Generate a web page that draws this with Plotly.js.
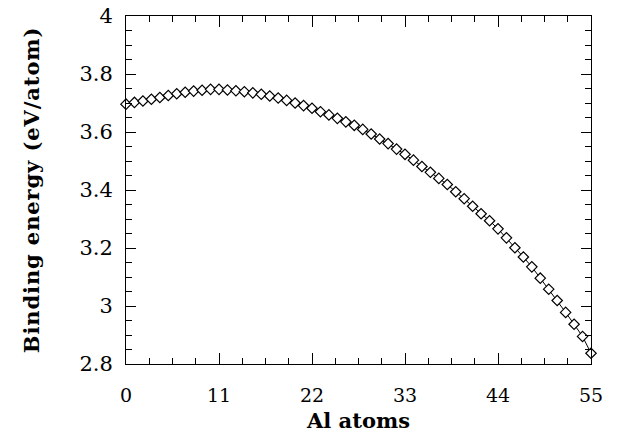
<!DOCTYPE html>
<html>
<head>
<meta charset="utf-8">
<script src="https://cdn.plot.ly/plotly-3.0.1.min.js"></script>
<style>html,body{margin:0;padding:0;background:#fff;}#chart{width:618px;height:434px;}
.ytitle{letter-spacing:0.9px;}
</style>
</head>
<body>
<div id="chart"></div>
<script>
const alAtoms = [0,1,2,3,4,5,6,7,8,9,10,11,12,13,14,15,16,17,18,19,20,21,22,23,24,25,26,27,28,29,30,31,32,33,34,35,36,37,38,39,40,41,42,43,44,45,46,47,48,49,50,51,52,53,54,55];
const bindingEnergy = [3.696,3.702,3.707,3.713,3.719,3.726,3.732,3.737,3.741,3.744,
  3.747,3.747,3.745,3.742,3.739,3.735,3.730,3.724,3.717,3.709,
  3.700,3.691,3.682,3.670,3.659,3.647,3.635,3.623,3.609,3.593,
  3.576,3.560,3.541,3.523,3.503,3.481,3.461,3.440,3.419,3.394,
  3.370,3.344,3.318,3.294,3.266,3.235,3.201,3.169,3.135,3.096,
  3.058,3.019,2.978,2.937,2.895,2.837];
const xTicks = [0,11,22,33,44,55];
const yTicks = [2.8,3,3.2,3.4,3.6,3.8,4];
const yTickText = ['2.8','3','3.2','3.4','3.6','3.8','4'];

const trace = {
  x: alAtoms, y: bindingEnergy, type: 'scatter', mode: 'lines+markers',
  line: {color: '#000', width: 1},
  marker: {symbol: 'diamond', size: 8, color: '#fff', line: {color: '#000', width: 1.2}},
  cliponaxis: false, showlegend: false
};
const fam = 'DejaVu Serif, serif';
const layout = {
  width: 618, height: 434,
  margin: {l: 126, r: 27, t: 16, b: 70},
  paper_bgcolor: '#fff', plot_bgcolor: '#fff',
  font: {family: fam, size: 19, color: '#000'},
  xaxis: {
    range: [0, 55], tickvals: xTicks, ticktext: xTicks.map(String),
    ticks: 'inside', ticklen: 11, tickwidth: 1, tickcolor: '#000',
    minor: {dtick: 2.75, tick0: 0, ticks: 'inside', ticklen: 6, tickwidth: 1, tickcolor: '#000'},
    showline: true, linecolor: '#000', linewidth: 1, mirror: 'allticks',
    showgrid: false, zeroline: false, tickfont: {family: fam, size: 19, color: '#000'}, ticklabelstandoff: 14,
    title: {text: '<b>Al atoms</b>', font: {family: fam, size: 21, color: '#000'}, standoff: 8}
  },
  yaxis: {
    range: [2.8, 4], tickvals: yTicks, ticktext: yTickText,
    ticks: 'inside', ticklen: 10, tickwidth: 1, tickcolor: '#000',
    minor: {dtick: 0.05, tick0: 2.8, ticks: 'inside', ticklen: 6, tickwidth: 1, tickcolor: '#000'},
    showline: true, linecolor: '#000', linewidth: 1, mirror: 'allticks',
    showgrid: false, zeroline: false, tickfont: {family: fam, size: 21, color: '#000'}, ticklabelstandoff: 8,
    title: {text: '<b>Binding energy (eV/atom)</b>', font: {family: fam, size: 21, color: '#000'}, standoff: 34}
  }
};
Plotly.newPlot('chart', [trace], layout, {staticPlot: true, displayModeBar: false});
</script>
</body>
</html>
